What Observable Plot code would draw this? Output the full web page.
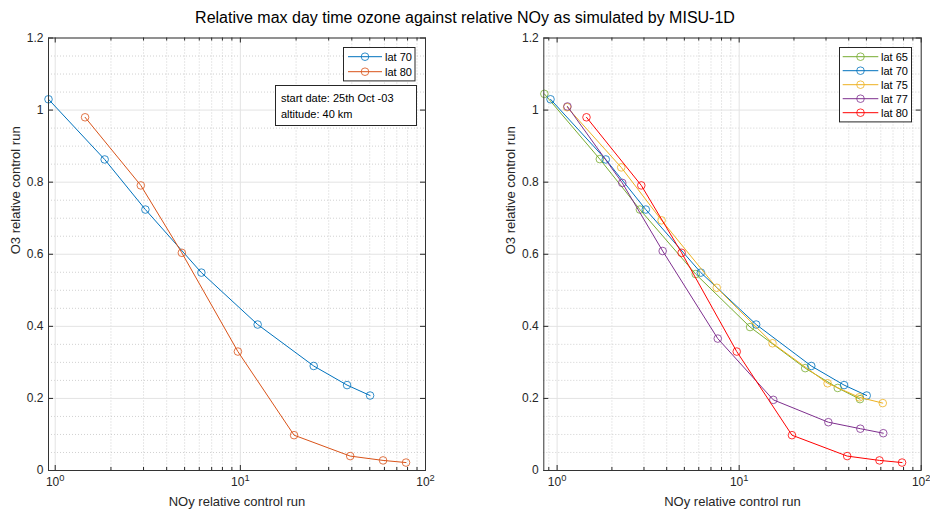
<!DOCTYPE html>
<html><head><meta charset="utf-8">
<script src="https://cdn.jsdelivr.net/npm/d3@7"></script>
<script src="https://cdn.jsdelivr.net/npm/@observablehq/plot@0.6"></script>
<style>
body{margin:0;background:#fff;}
#wrap{position:relative;width:930px;height:513px;overflow:hidden;font-family:"Liberation Sans",Arial,Helvetica,sans-serif;}
#wrap svg{position:absolute;top:0;}
</style></head><body><div id="wrap"></div>
<script>
// ---- data ----
const titleText = "Relative max day time ozone against relative NOy as simulated by MISU-1D";
const xLabel = "NOy relative control run";
const yLabel = "O3 relative control run";

const lat65x = [0.851, 1.716, 2.85, 5.77, 11.48, 23.05, 34.8, 46.1];
const lat65y = [1.045, 0.864, 0.724, 0.545, 0.398, 0.284, 0.229, 0.198];
const lat70x = [0.92, 1.85, 3.07, 6.16, 12.4, 24.9, 37.7, 50.2];
const lat70y = [1.03, 0.863, 0.724, 0.549, 0.405, 0.290, 0.237, 0.208];
const lat75x = [1.135, 2.25, 3.75, 7.53, 15.25, 30.6, 45.7, 61.5];
const lat75y = [1.008, 0.841, 0.694, 0.507, 0.353, 0.242, 0.203, 0.187];
const lat77x = [1.14, 2.28, 3.80, 7.63, 15.4, 30.9, 46.3, 61.9];
const lat77y = [1.01, 0.798, 0.609, 0.366, 0.196, 0.134, 0.116, 0.1035];
const lat80x = [1.45, 2.9, 4.83, 9.7, 19.5, 39.2, 59.0, 78.5];
const lat80y = [0.98, 0.791, 0.604, 0.330, 0.098, 0.040, 0.028, 0.022];

const leftNames = ["lat 70", "lat 80"];
const rightNames = ["lat 65", "lat 70", "lat 75", "lat 77", "lat 80"];
const annotation = ["start date: 25th Oct -03", "altitude: 40 km"];

const xMajor = [1, 10, 100];
const xMajorLabels = ["10^0", "10^1", "10^2"];
const xMinor = [0.9, 2, 3, 4, 5, 6, 7, 8, 9, 20, 30, 40, 50, 60, 70, 80, 90];
const yMajor = [0, 0.2, 0.4, 0.6, 0.8, 1, 1.2];
const yMajorLabels = ["0", "0.2", "0.4", "0.6", "0.8", "1", "1.2"];
const yMinor = [0.05, 0.1, 0.15, 0.25, 0.3, 0.35, 0.45, 0.5, 0.55, 0.65, 0.7, 0.75, 0.85, 0.9, 0.95, 1.05, 1.1, 1.15];

// ---- styling ----
const C = {blue: "#0072BD", orange: "#D95319", yellow: "#EDB120", purple: "#7E2F8E", green: "#77AC30", red: "#FF0000"};
const leftSeries = [
  {name: leftNames[0], color: C.blue, xs: lat70x, ys: lat70y},
  {name: leftNames[1], color: C.orange, xs: lat80x, ys: lat80y}
];
const rightSeries = [
  {name: rightNames[0], color: C.green, xs: lat65x, ys: lat65y},
  {name: rightNames[1], color: C.blue, xs: lat70x, ys: lat70y},
  {name: rightNames[2], color: C.yellow, xs: lat75x, ys: lat75y},
  {name: rightNames[3], color: C.purple, xs: lat77x, ys: lat77y},
  {name: rightNames[4], color: C.red, xs: lat80x, ys: lat80y}
];

const W = 465, H = 513, MT = 37.5, MB = 43, FH = H - MT - MB;
const FONT = '"Liberation Sans", Arial, Helvetica, sans-serif';

function panel(series, xDomain, mL, mR) {
  const inDom = v => v >= xDomain[0] && v <= xDomain[1];
  const minors = xMinor.filter(inDom);
  const marks = [
    Plot.ruleX(minors, {x: d => d, stroke: "#bdbdbd", strokeWidth: 0.7, strokeDasharray: "1,2"}),
    Plot.ruleY(yMinor, {y: d => d, stroke: "#bdbdbd", strokeWidth: 0.7, strokeDasharray: "1,2"}),
    Plot.ruleX(xMajor, {x: d => d, stroke: "#e3e3e3", strokeWidth: 1}),
    Plot.ruleY(yMajor, {y: d => d, stroke: "#e3e3e3", strokeWidth: 1}),
    // inward ticks
    Plot.tickX(xMajor, {x: d => d, insetTop: FH - 5, stroke: "#262626"}),
    Plot.tickX(xMajor, {x: d => d, insetBottom: FH - 5, stroke: "#262626"}),
    Plot.tickX(minors, {x: d => d, insetTop: FH - 3, stroke: "#262626"}),
    Plot.tickX(minors, {x: d => d, insetBottom: FH - 3, stroke: "#262626"}),
    Plot.tickY(yMajor, {y: d => d, insetRight: (W - mL - mR) - 5, stroke: "#262626"}),
    Plot.tickY(yMajor, {y: d => d, insetLeft: (W - mL - mR) - 5, stroke: "#262626"}),
    // tick labels
    Plot.text(xMajor, {x: d => d, frameAnchor: "bottom", dy: 15.5, text: (d, i) => xMajorLabels[i], fontSize: 12, fill: "#262626"}),
    Plot.text(yMajor, {y: d => d, frameAnchor: "left", dx: -5, textAnchor: "end", text: (d, i) => yMajorLabels[i], fontSize: 12, fill: "#262626"}),
    // axis labels
    Plot.text([xLabel], {frameAnchor: "bottom", dy: 35, text: d => d, fontSize: 13, fill: "#262626"}),
    Plot.text([yLabel], {frameAnchor: "left", dx: -33, rotate: -90, text: d => d, fontSize: 13, fill: "#262626"})
  ];
  for (const s of series) {
    const rows = s.xs.map((x, i) => ({x, y: s.ys[i]}));
    marks.push(Plot.line(rows, {x: "x", y: "y", stroke: s.color, strokeWidth: 1}));
    marks.push(Plot.dot(rows, {x: "x", y: "y", r: 3.8, stroke: s.color, fill: "none", strokeWidth: 0.8}));
  }
  marks.push(Plot.frame({stroke: "#333333", strokeWidth: 1}));
  const svg = Plot.plot({
    width: W, height: H,
    marginLeft: mL, marginRight: mR, marginTop: MT, marginBottom: MB,
    x: {type: "log", domain: xDomain, axis: null},
    y: {domain: [0, 1.2], axis: null},
    style: {fontFamily: FONT, fontSize: "12px", color: "#262626", background: "transparent", overflow: "visible"},
    marks
  });
  d3.select(svg).selectAll("text").each(function () {
    const t = this.textContent;
    if (t.includes("^")) {
      const [b, e] = t.split("^");
      const s = d3.select(this);
      s.selectAll("*").remove();
      s.text(null);
      s.append("tspan").text(b);
      s.append("tspan").attr("dy", "-0.5em").attr("font-size", "0.78em").text(e);
    }
  });
  return svg;
}

const wrap = document.getElementById("wrap");
const left = panel(leftSeries, [0.92, 100], 48, 40);
left.style.left = "0px";
wrap.appendChild(left);
const right = panel(rightSeries, [0.845, 100], 78.3, 9.3);
right.style.left = W + "px";
wrap.appendChild(right);

// overlay: title, legends, annotation
const ov = d3.select(wrap).append("svg").attr("width", 930).attr("height", 513)
  .style("left", "0px").style("font-family", FONT);
ov.append("text").attr("x", 465).attr("y", 17).attr("text-anchor", "middle").attr("dy", "0.35em")
  .attr("font-size", 16).attr("fill", "#000").text(titleText);

function legend(series, bx, by, bw, rowY0, step, lx0, lx1, tx) {
  ov.append("rect").attr("x", bx).attr("y", by).attr("width", bw)
    .attr("height", series.length * step + (rowY0 - by) * 2 - step)
    .attr("fill", "#fff").attr("stroke", "#262626").attr("stroke-width", 1);
  series.forEach((s, i) => {
    const y = rowY0 + i * step;
    ov.append("line").attr("x1", lx0).attr("x2", lx1).attr("y1", y).attr("y2", y).attr("stroke", s.color).attr("stroke-width", 1);
    ov.append("circle").attr("cx", (lx0 + lx1) / 2).attr("cy", y).attr("r", 3.8).attr("fill", "none").attr("stroke", s.color).attr("stroke-width", 0.8);
    ov.append("text").attr("x", tx).attr("y", y).attr("dy", "0.35em").attr("font-size", 11).attr("fill", "#000").text(s.name);
  });
}
legend(leftSeries, 343.5, 47.5, 71.5, 56.7, 15, 348, 382, 385);
legend(rightSeries, 839.5, 47.5, 72, 56.7, 14, 842.7, 878.3, 881);

ov.append("rect").attr("x", 275.5).attr("y", 85.5).attr("width", 141).attr("height", 40)
  .attr("fill", "#fff").attr("stroke", "#262626").attr("stroke-width", 1);
annotation.forEach((t, i) => {
  ov.append("text").attr("x", 281).attr("y", 98 + i * 16).attr("dy", "0.35em").attr("font-size", 11).attr("fill", "#000").text(t);
});
</script>
</body></html>
